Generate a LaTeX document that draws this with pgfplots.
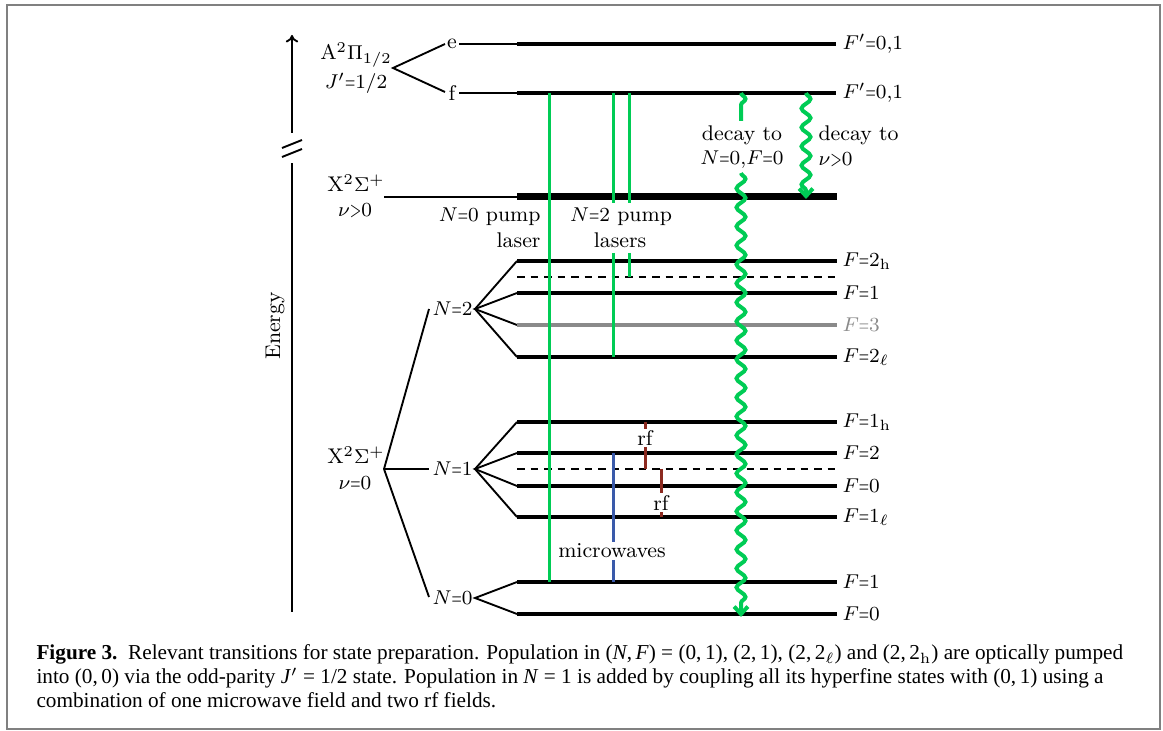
\documentclass[border=0pt]{standalone}
\usepackage{pgfplots}
\pgfplotsset{compat=1.18}
\usepackage{fontspec}
\newfontfamily\capfont{Liberation Serif}
\usetikzlibrary{decorations.pathmorphing,arrows.meta}
\definecolor{lgreen}{HTML}{00CC55}
\definecolor{mwblue}{HTML}{3A5AAA}
\definecolor{rfred}{HTML}{8C2A20}
\definecolor{fgray}{HTML}{8A8A8A}
\definecolor{framegray}{HTML}{808080}
\newcommand{\eq}{\mathord{\hbox{\scalebox{0.62}[1]{$=$}}}}
\newcommand{\gt}{\mathord{\hbox{\scalebox{0.7}[1]{$>$}}}}
\begin{document}
\begin{tikzpicture}[
  lab/.style={font=\fontsize{8.5}{10}\selectfont, inner sep=0pt},
  lvl/.style={black, line width=1.4pt},
  thn/.style={black, line width=0.75pt},
  dsh/.style={black, line width=0.75pt, dash pattern=on 3pt off 2.4pt},
  grn/.style={lgreen, line width=1.2pt},
  wav/.style={lgreen, line width=1.6pt, decorate, decoration={snake, amplitude=1.8pt, segment length=7.6pt, post length=3pt}},
]
\begin{axis}[scale only axis, width=465.2pt, height=292.4pt,
  xmin=0, xmax=1163, ymin=0, ymax=731, y dir=reverse, hide axis, clip=false]
\path (axis cs:0,0) rectangle (axis cs:1163,731);
% frame
\draw[framegray, line width=0.9pt] (axis cs:7,5) rectangle (axis cs:1160,729);

% energy axis
\addplot[thn, -{To[length=3pt,width=5pt]}] coordinates {(292,133) (292,35)};
\addplot[thn] coordinates {(292,612) (292,163)};
\addplot[thn] coordinates {(282,148) (302,140)};
\addplot[thn] coordinates {(282,157) (302,149)};
\node[lab, rotate=90] at (axis cs:275,326) {Energy};

% A state
\addplot[thn] coordinates {(445,44) (393,68) (445,92)};
\addplot[thn] coordinates {(459,44) (517,44)};
\addplot[thn] coordinates {(459,93) (517,93)};
\addplot[lvl] coordinates {(517,44) (836,44)};
\addplot[lvl] coordinates {(517,93) (836,93)};
\node[lab] at (axis cs:452,44) {e};
\node[lab] at (axis cs:452,93) {f};
\node[lab] at (axis cs:356,55) {A$^2\Pi_{1/2}$};
\node[lab] at (axis cs:356,83) {$J'\eq1/2$};
\node[lab, anchor=west] at (axis cs:842,44) {$F'\eq0{,}1$};
\node[lab, anchor=west] at (axis cs:842,93) {$F'\eq0{,}1$};

% X v>0
\addplot[thn] coordinates {(384,197) (517,197)};
\addplot[black, line width=2.8pt] coordinates {(517,197) (837,197)};
\node[lab] at (axis cs:356,183) {X$^2\Sigma^+$};
\node[lab] at (axis cs:355,211) {$\nu\gt0$};

% X v=0 tree
\addplot[thn] coordinates {(429,309) (384,469) (429,597)};
\addplot[thn] coordinates {(384,469) (429,469)};
\node[lab] at (axis cs:356,455) {X$^2\Sigma^+$};
\node[lab] at (axis cs:355,483) {$\nu\eq0$};
\node[lab, anchor=east] at (axis cs:473,309) {$N\eq2$};
\node[lab, anchor=east] at (axis cs:473,469) {$N\eq1$};
\node[lab, anchor=east] at (axis cs:473,598) {$N\eq0$};

% N=2
\addplot[thn] coordinates {(517,261) (475,309) (517,357)};
\addplot[thn] coordinates {(517,293) (475,309) (517,325)};
\addplot[lvl] coordinates {(517,261) (837,261)};
\addplot[dsh] coordinates {(517,277) (837,277)};
\addplot[lvl] coordinates {(517,293) (837,293)};
\addplot[fgray, line width=1.4pt] coordinates {(517,325) (837,325)};
\addplot[lvl] coordinates {(517,357) (837,357)};
\node[lab, anchor=west] at (axis cs:842,261) {$F\eq2_\mathrm{h}$};
\node[lab, anchor=west] at (axis cs:842,293) {$F\eq1$};
\node[lab, anchor=west, text=fgray] at (axis cs:842,325) {$F\eq3$};
\node[lab, anchor=west] at (axis cs:842,357) {$F\eq2_\ell$};

% N=1
\addplot[thn] coordinates {(517,422) (475,469) (517,517)};
\addplot[thn] coordinates {(517,453) (475,469) (517,486)};
\addplot[lvl] coordinates {(517,422) (837,422)};
\addplot[lvl] coordinates {(517,453) (837,453)};
\addplot[dsh] coordinates {(517,469) (837,469)};
\addplot[lvl] coordinates {(517,486) (837,486)};
\addplot[lvl] coordinates {(517,517) (837,517)};
\node[lab, anchor=west] at (axis cs:842,422) {$F\eq1_\mathrm{h}$};
\node[lab, anchor=west] at (axis cs:842,453) {$F\eq2$};
\node[lab, anchor=west] at (axis cs:842,486) {$F\eq0$};
\node[lab, anchor=west] at (axis cs:842,517) {$F\eq1_\ell$};

% N=0
\addplot[thn] coordinates {(517,582) (475,598) (517,614)};
\addplot[lvl] coordinates {(517,582) (837,582)};
\addplot[lvl] coordinates {(517,614) (837,614)};
\node[lab, anchor=west] at (axis cs:842,582) {$F\eq1$};
\node[lab, anchor=west] at (axis cs:842,614) {$F\eq0$};

% pump lasers
\addplot[grn] coordinates {(549,93) (549,582)};
\addplot[grn] coordinates {(613,93) (613,203)};
\addplot[grn] coordinates {(613,253) (613,357)};
\addplot[grn] coordinates {(629,93) (629,203)};
\addplot[grn] coordinates {(629,253) (629,277)};
\node[lab, anchor=east] at (axis cs:541,217) {$N\eq0$ pump};
\node[lab, anchor=east] at (axis cs:541,240) {laser};
\node[lab] at (axis cs:621,217) {$N\eq2$ pump};
\node[lab] at (axis cs:620,240) {lasers};

% microwaves
\addplot[mwblue, line width=1.2pt] coordinates {(613,453) (613,542)};
\addplot[mwblue, line width=1.2pt] coordinates {(613,560) (613,582)};
\node[lab] at (axis cs:612,551) {microwaves};

% rf
\addplot[rfred, line width=1.2pt] coordinates {(645,422) (645,429)};
\addplot[rfred, line width=1.2pt] coordinates {(645,447) (645,469)};
\addplot[rfred, line width=1.2pt] coordinates {(661,469) (661,493)};
\addplot[rfred, line width=1.2pt] coordinates {(661,512) (661,517)};
\node[lab] at (axis cs:645,438) {rf};
\node[lab] at (axis cs:661,503) {rf};

% decays
\addplot[wav] coordinates {(741,93) (741,121)};
\addplot[wav, -{Straight Barb[length=3pt,width=5.5pt]}] coordinates {(741,173) (741,617)};
\addplot[wav, -{Straight Barb[length=3pt,width=5.5pt]}] coordinates {(806,93) (806,199)};
\node[lab] at (axis cs:742,135) {decay to};
\node[lab] at (axis cs:742,160) {$N\eq0{,}F\eq0$};
\node[lab, anchor=west] at (axis cs:818,135) {decay to};
\node[lab, anchor=west] at (axis cs:818,160) {$\nu\gt0$};

% caption
\node[anchor=base west, inner sep=0pt, font=\capfont\fontsize{8.5}{9.6}\selectfont] at (axis cs:36,660)
 {\textbf{Figure 3.}\enspace Relevant transitions for state preparation. Population in (\textit{N},\,\textit{F}) = (0,\,1), (2,\,1), (2,\,2$_\ell$) and (2,\,2$_\mathrm{h}$) are optically pumped};
\node[anchor=base west, inner sep=0pt, font=\capfont\fontsize{8.5}{9.6}\selectfont] at (axis cs:36,684)
 {into (0,\,0) via the odd-parity \textit{J}$'$ = 1/2 state. Population in \textit{N} = 1 is added by coupling all its hyperfine states with (0,\,1) using a};
\node[anchor=base west, inner sep=0pt, font=\capfont\fontsize{8.5}{9.6}\selectfont] at (axis cs:36,708)
 {combination of one microwave field and two rf fields.};
\end{axis}
\end{tikzpicture}
\end{document}
